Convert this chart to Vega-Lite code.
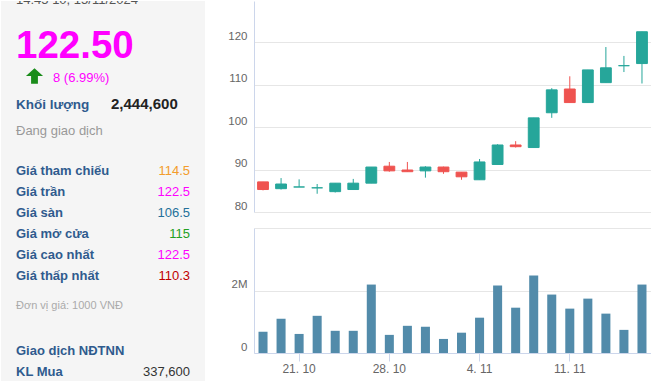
{
  "$schema": "https://vega.github.io/schema/vega-lite/v6.json",
  "padding": 0,
  "background": "white",
  "spacing": 0,
  "config": {"font": "Liberation Sans", "view": {"stroke": null}},
  "datasets": {
    "candles": [
      {"day": "17. 10", "o": 87.1, "h": 87.1, "l": 85.1, "c": 85.3, "v": 680000},
      {"day": "18. 10", "o": 85.5, "h": 88.0, "l": 85.3, "c": 86.6, "v": 1100000},
      {"day": "21. 10", "o": 85.9, "h": 87.7, "l": 85.9, "c": 85.9, "v": 610000},
      {"day": "22. 10", "o": 85.7, "h": 86.6, "l": 84.3, "c": 85.7, "v": 1190000},
      {"day": "23. 10", "o": 84.8, "h": 86.8, "l": 84.6, "c": 86.8, "v": 710000},
      {"day": "24. 10", "o": 85.3, "h": 87.8, "l": 85.3, "c": 86.8, "v": 710000},
      {"day": "25. 10", "o": 86.8, "h": 90.6, "l": 86.8, "c": 90.6, "v": 2190000},
      {"day": "28. 10", "o": 90.8, "h": 91.8, "l": 89.5, "c": 89.7, "v": 580000},
      {"day": "29. 10", "o": 89.9, "h": 91.8, "l": 89.5, "c": 89.5, "v": 870000},
      {"day": "30. 10", "o": 89.7, "h": 90.8, "l": 88.1, "c": 90.6, "v": 840000},
      {"day": "31. 10", "o": 90.6, "h": 90.7, "l": 89.0, "c": 89.5, "v": 450000},
      {"day": "1. 11", "o": 89.4, "h": 89.4, "l": 87.6, "c": 88.3, "v": 650000},
      {"day": "4. 11", "o": 87.6, "h": 92.5, "l": 87.6, "c": 91.8, "v": 1130000},
      {"day": "5. 11", "o": 91.2, "h": 96.0, "l": 91.2, "c": 95.8, "v": 2160000},
      {"day": "6. 11", "o": 95.8, "h": 96.7, "l": 95.2, "c": 95.4, "v": 1450000},
      {"day": "7. 11", "o": 95.2, "h": 102.2, "l": 95.2, "c": 102.2, "v": 2480000},
      {"day": "8. 11", "o": 103.4, "h": 109.2, "l": 102.2, "c": 108.8, "v": 1870000},
      {"day": "11. 11", "o": 109.0, "h": 112.0, "l": 105.8, "c": 105.8, "v": 1420000},
      {"day": "12. 11", "o": 105.8, "h": 113.5, "l": 105.8, "c": 113.5, "v": 1740000},
      {"day": "13. 11", "o": 110.5, "h": 118.9, "l": 110.5, "c": 114.0, "v": 1260000},
      {"day": "14. 11", "o": 114.5, "h": 116.8, "l": 113.0, "c": 114.5, "v": 740000},
      {"day": "15. 11", "o": 115.0, "h": 122.5, "l": 110.3, "c": 122.5, "v": 2190000}
    ],
    "stats": [
      {"label": "Giá tham chiếu", "value": "114.5"},
      {"label": "Giá trần", "value": "122.5"},
      {"label": "Giá sàn", "value": "106.5"},
      {"label": "Giá mở cửa", "value": "115"},
      {"label": "Giá cao nhất", "value": "122.5"},
      {"label": "Giá thấp nhất", "value": "110.3"}
    ]
  },
  "hconcat": [
    {
      "width": 204,
      "height": 381,
      "view": {"fill": "#f5f5f5", "stroke": null},
      "layer": [
        {"data": {"values": [{}]}, "mark": {"type": "text", "x": 15, "y": 3, "text": "14:45 10, 15/11/2024", "align": "left", "baseline": "alphabetic", "fontSize": 13, "color": "#555", "clip": true}},
        {"data": {"values": [{}]}, "mark": {"type": "text", "x": 15, "y": 57, "text": "122.50", "align": "left", "baseline": "alphabetic", "fontSize": 38.5, "fontWeight": "bold", "color": "#ff00ff"}},
        {"data": {"values": [{}]}, "mark": {"type": "point", "x": 33.5, "y": 75, "shape": "M0,-0.85L0.95,0L0.38,0L0.38,0.85L-0.38,0.85L-0.38,0L-0.95,0Z", "size": 324, "filled": true, "opacity": 1, "color": "#1a8c1a"}},
        {"data": {"values": [{}]}, "mark": {"type": "text", "x": 52, "y": 80.5, "text": "8 (6.99%)", "align": "left", "baseline": "alphabetic", "fontSize": 13, "color": "#ff00ff"}},
        {"data": {"values": [{}]}, "mark": {"type": "text", "x": 15, "y": 108, "text": "Khối lượng", "align": "left", "baseline": "alphabetic", "fontSize": 13.5, "fontWeight": "bold", "color": "#2f5b8e"}},
        {"data": {"values": [{}]}, "mark": {"type": "text", "x": 110, "y": 108, "text": "2,444,600", "align": "left", "baseline": "alphabetic", "fontSize": 15, "fontWeight": "bold", "color": "#222"}},
        {"data": {"values": [{}]}, "mark": {"type": "text", "x": 15, "y": 134, "text": "Đang giao dịch", "align": "left", "baseline": "alphabetic", "fontSize": 13, "color": "#999"}},
        {"data": {"values": [{}]}, "mark": {"type": "rule", "x": 15, "x2": 191, "y": 149.5, "y2": 149.5, "color": "#e3e3e3", "strokeWidth": 1}, "encoding": {}},
        {
          "data": {"name": "stats"},
          "encoding": {"y": {"field": "label", "type": "nominal", "sort": null, "scale": {"type": "point", "range": [174, 279], "padding": 0}, "axis": null}},
          "layer": [
            {"mark": {"type": "text", "x": 15, "align": "left", "baseline": "alphabetic", "fontSize": 13, "fontWeight": "bold", "color": "#2f5b8e"}, "encoding": {"text": {"field": "label"}}},
            {"mark": {"type": "text", "x": 189, "align": "right", "baseline": "alphabetic", "fontSize": 13}, "encoding": {"text": {"field": "value"}, "color": {"field": "label", "type": "nominal", "sort": null, "scale": {"domain": ["Giá tham chiếu", "Giá trần", "Giá sàn", "Giá mở cửa", "Giá cao nhất", "Giá thấp nhất"], "range": ["#f39c2b", "#ff00ff", "#23709a", "#22a022", "#ff00ff", "#c00000"]}, "legend": null}}}
          ]
        },
        {"data": {"values": [{}]}, "mark": {"type": "text", "x": 15, "y": 308, "text": "Đơn vị giá: 1000 VNĐ", "align": "left", "baseline": "alphabetic", "fontSize": 11, "color": "#aaa"}},
        {"data": {"values": [{}]}, "mark": {"type": "rule", "x": 15, "x2": 191, "y": 332.5, "y2": 332.5, "color": "#e3e3e3", "strokeWidth": 1}, "encoding": {}},
        {"data": {"values": [{}]}, "mark": {"type": "text", "x": 15, "y": 354, "text": "Giao dịch NĐTNN", "align": "left", "baseline": "alphabetic", "fontSize": 13, "fontWeight": "bold", "color": "#2f5b8e"}},
        {"data": {"values": [{}]}, "mark": {"type": "text", "x": 15, "y": 375, "text": "KL Mua", "align": "left", "baseline": "alphabetic", "fontSize": 13, "fontWeight": "bold", "color": "#2f5b8e"}},
        {"data": {"values": [{}]}, "mark": {"type": "text", "x": 189, "y": 375, "text": "337,600", "align": "right", "baseline": "alphabetic", "fontSize": 13, "color": "#333"}}
      ]
    },
    {
      "spacing": 16,
      "vconcat": [
        {
          "width": 397,
          "height": 211,
          "data": {"name": "candles"},
          "encoding": {"x": {"field": "day", "type": "ordinal", "sort": null, "scale": {"paddingInner": 0, "paddingOuter": 0}, "axis": null}},
          "layer": [
            {
              "mark": {"type": "rule", "strokeWidth": 1},
              "encoding": {
                "y": {"field": "l", "type": "quantitative", "scale": {"domain": [80, 129.75], "zero": false, "nice": false},
                  "axis": {"values": [80, 90, 100, 110, 120], "title": null, "grid": true, "gridColor": "#e6e6e6", "domainColor": "#ccd6eb", "ticks": false, "labelColor": "#666", "labelFontSize": 11.5, "labelPadding": 7, "labelOffset": -6, "minExtent": 49, "maxExtent": 49}},
                "y2": {"field": "h"},
                "color": {"condition": {"test": "datum.c >= datum.o", "value": "#26a69a"}, "value": "#ef5350"}
              }
            },
            {
              "mark": {"type": "bar", "width": {"band": 0.6}, "strokeWidth": 1},
              "encoding": {
                "y": {"field": "o", "type": "quantitative"},
                "y2": {"field": "c"},
                "color": {"condition": {"test": "datum.c >= datum.o", "value": "#26a69a"}, "value": "#ef5350"},
                "stroke": {"condition": {"test": "datum.c >= datum.o", "value": "#26a69a"}, "value": "#ef5350"}
              }
            }
          ]
        },
        {
          "width": 397,
          "height": 125,
          "data": {"name": "candles"},
          "mark": {"type": "bar", "width": {"band": 0.5}, "color": "#528baa"},
          "encoding": {
            "x": {"field": "day", "type": "ordinal", "sort": null, "scale": {"paddingInner": 0, "paddingOuter": 0},
              "axis": {"values": ["21. 10", "28. 10", "4. 11", "11. 11"], "title": null, "labelAngle": 0, "domainColor": "#ccd6eb", "tickColor": "#ccd6eb", "tickSize": 8, "labelColor": "#666", "labelFontSize": 12, "labelPadding": 2, "grid": false}},
            "y": {"field": "v", "type": "quantitative", "scale": {"domain": [0, 4000000], "nice": false},
              "axis": {"values": [0, 2000000, 4000000], "labelExpr": "datum.value == 0 ? '0' : datum.value == 2000000 ? '2M' : ''", "title": null, "grid": true, "gridColor": "#e6e6e6", "domainColor": "#ccd6eb", "ticks": false, "labelColor": "#666", "labelFontSize": 11.5, "labelPadding": 7, "labelOffset": -6, "minExtent": 49, "maxExtent": 49}}
          }
        }
      ]
    }
  ]
}
